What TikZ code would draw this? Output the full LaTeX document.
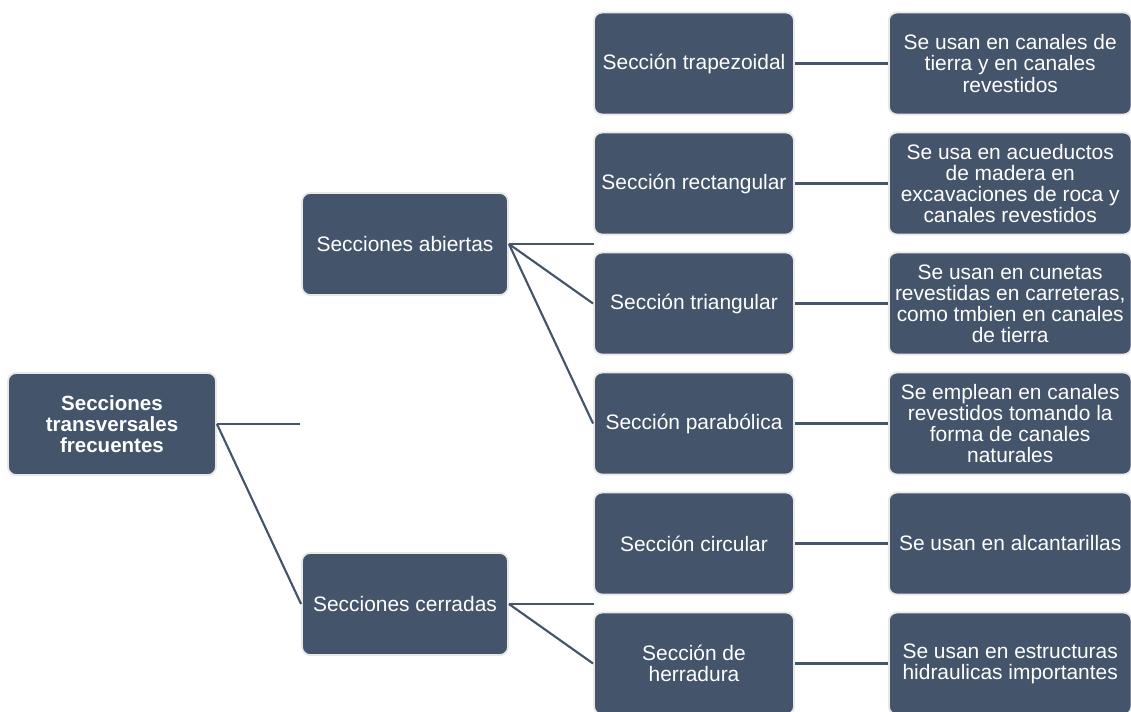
\documentclass[tikz,border=0pt]{standalone}
\usepackage{fontspec}
\setmainfont{Liberation Sans}
\usepackage{xcolor}
\usetikzlibrary{positioning}
\definecolor{slate}{HTML}{44546A}

\begin{document}
\begin{tikzpicture}[
    x=0.75pt, y=-0.75pt,
    node distance=69.75pt,
    box/.style={rectangle, draw=black!9, line width=1.4pt, fill=slate,
        text=white, rounded corners=6pt, minimum height=76.5pt,
        align=center, inner sep=2pt, font=\fontsize{15.7}{15.8}\selectfont},
    main/.style={box, minimum width=156pt,
        font=\fontsize{15.4}{15.8}\selectfont\bfseries},
    group/.style={box, minimum width=154.5pt},
    section/.style={box, minimum width=150pt},
    usage/.style={box, minimum width=182pt},
    link/.style={draw=slate, line width=1.6pt}
]
    \useasboundingbox (0,0) rectangle (1131,711);

    % Root
    \node[main] (root) at (112,424) {Secciones\\transversales\\frecuentes};

    % Groups
    \node[group] (abiertas) at (405,244) {Secciones abiertas};
    \node[group] (cerradas) at (405,604) {Secciones cerradas};

    % Sections
    \node[section] (trap) at (694,63.5) {Sección trapezoidal};
    \node[section] (rect) at (694,183.5) {Sección rectangular};
    \node[section] (tri) at (694,303.5) {Sección triangular};
    \node[section] (parab) at (694,423.5) {Sección parabólica};
    \node[section] (circ) at (694,543.5) {Sección circular};
    \node[section] (herr) at (694,663.5) {Sección de\\herradura};

    % Uses
    \node[usage, right=of trap] (usetrap)
        {Se usan en canales de\\tierra y en canales\\revestidos};
    \node[usage, right=of rect] (userect)
        {Se usa en acueductos\\de madera en\\excavaciones de roca y\\canales revestidos};
    \node[usage, right=of tri] (usetri)
        {Se usan en cunetas\\revestidas en carreteras,\\como tmbien en canales\\de tierra};
    \node[usage, right=of parab] (useparab)
        {Se emplean en canales\\revestidos tomando la\\forma de canales\\naturales};
    \node[usage, right=of circ] (usecirc) {Se usan en alcantarillas};
    \node[usage, right=of herr] (useherr)
        {Se usan en estructuras\\hidraulicas importantes};

    % Loose ends
    \coordinate (rootend) at (300,424);
    \coordinate (abiertasend) at (594,244);
    \coordinate (cerradasend) at (594,604);

    % Lines
    \draw[link] (root.east) -- (rootend);
    \draw[link] (root.east) -- (cerradas.west);
    \draw[link] (abiertas.east) -- (abiertasend);
    \draw[link] (abiertas.east) -- (tri.west);
    \draw[link] (abiertas.east) -- (parab.west);
    \draw[link] (cerradas.east) -- (cerradasend);
    \draw[link] (cerradas.east) -- (herr.west);
    \draw[link] (trap) -- (usetrap);
    \draw[link] (rect) -- (userect);
    \draw[link] (tri) -- (usetri);
    \draw[link] (parab) -- (useparab);
    \draw[link] (circ) -- (usecirc);
    \draw[link] (herr) -- (useherr);
\end{tikzpicture}
\end{document}
